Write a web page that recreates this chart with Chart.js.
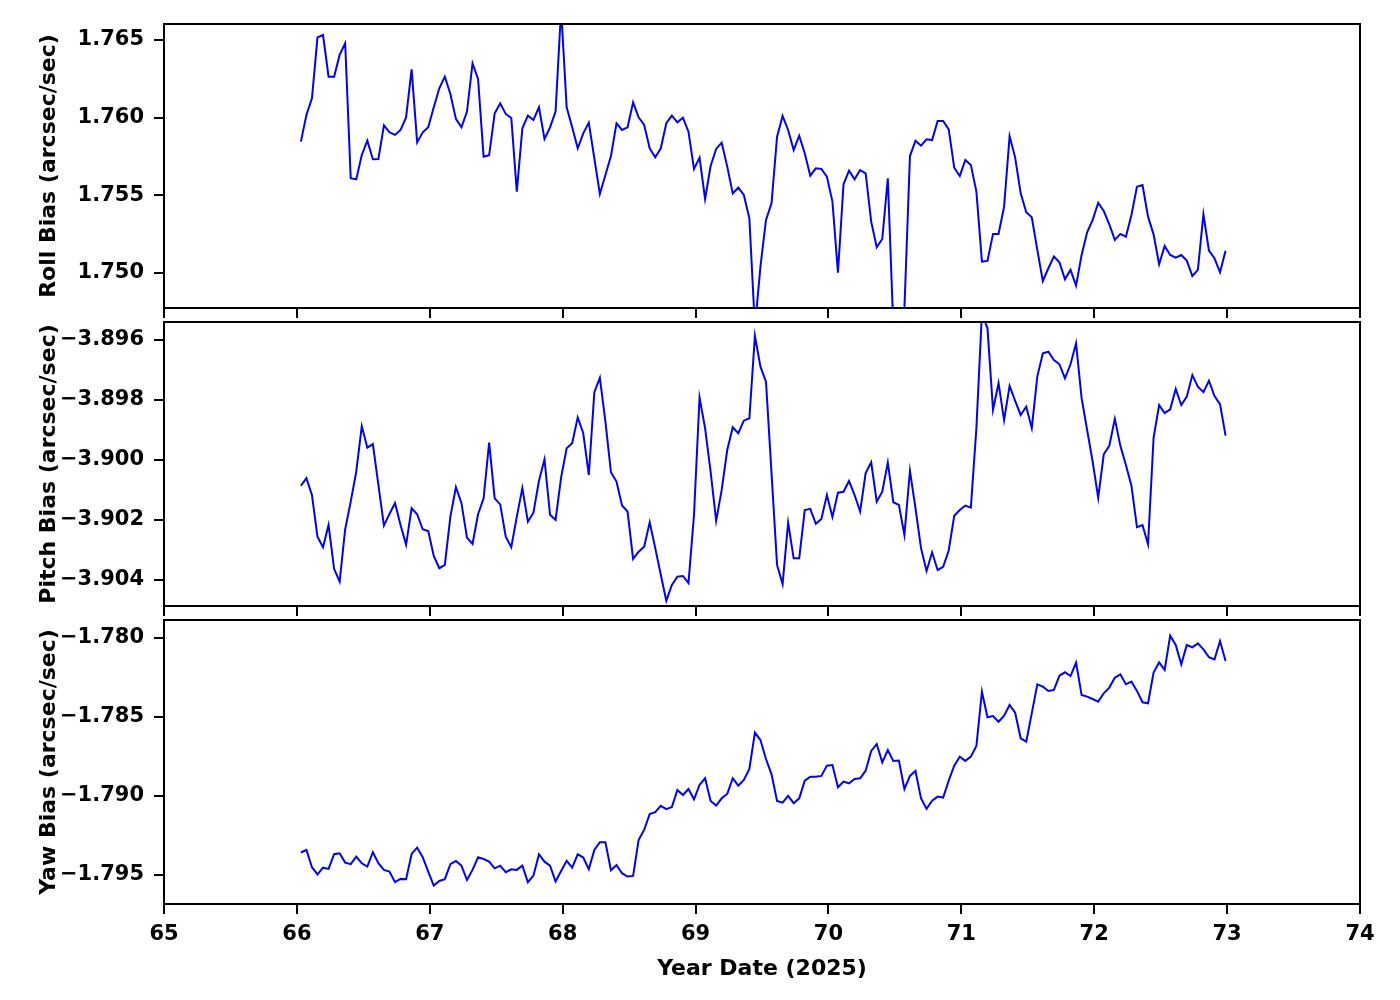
<!DOCTYPE html>
<html>
<head>
<meta charset="utf-8">
<script src="https://cdn.jsdelivr.net/npm/chart.js@4.4.1/dist/chart.umd.min.js"></script>
<style>
  body { margin: 0; background: #fff; }
  #wrap { position: relative; width: 1400px; height: 1000px; }
  canvas { position: absolute; left: 0; }
</style>
</head>
<body>
<div id="wrap">
  <canvas id="rollChart" width="1400" height="320" style="top:0px"></canvas>
  <canvas id="pitchChart" width="1400" height="308" style="top:310px"></canvas>
  <canvas id="yawChart" width="1400" height="388" style="top:612px"></canvas>
</div>
<script>
// hourly samples, day of year 2025
const START_DAY = 66.03;
const STEP_DAY = 1 / 24;

const X_TICKS = [65, 66, 67, 68, 69, 70, 71, 72, 73, 74];
const ROLL_TICKS = [1.750, 1.755, 1.760, 1.765];
const PITCH_TICKS = [-3.904, -3.902, -3.900, -3.898, -3.896];
const YAW_TICKS = [-1.795, -1.790, -1.785, -1.780];

const rollBias = [
  1.75846, 1.76017, 1.76125, 1.76517, 1.76532, 1.76264, 1.76264, 1.76404, 1.76479, 1.75610,
  1.75603, 1.75760, 1.75852, 1.75732, 1.75734, 1.75951, 1.75906, 1.75889, 1.75921, 1.76002,
  1.76311, 1.75841, 1.75906, 1.75938, 1.76067, 1.76189, 1.76264, 1.76153, 1.75992, 1.75938,
  1.76039, 1.76350, 1.76249, 1.75749, 1.75758, 1.76028, 1.76092, 1.76024, 1.75998, 1.75524,
  1.75932, 1.76013, 1.75985, 1.76067, 1.75863, 1.75938, 1.76039, 1.76700, 1.76067, 1.75938,
  1.75803, 1.75899, 1.75968, 1.75738, 1.75509, 1.75631, 1.75753, 1.75964, 1.75921, 1.75938,
  1.76099, 1.76002, 1.75953, 1.75803, 1.75745, 1.75803, 1.75964, 1.76013, 1.75970, 1.76000,
  1.75910, 1.75670, 1.75743, 1.75477, 1.75689, 1.75799, 1.75839, 1.75685, 1.75513, 1.75550,
  1.75503, 1.75352, 1.74650, 1.75041, 1.75342, 1.75449, 1.75878, 1.76011, 1.75921, 1.75792,
  1.75884, 1.75771, 1.75627, 1.75674, 1.75670, 1.75621, 1.75460, 1.75003, 1.75571, 1.75659,
  1.75603, 1.75663, 1.75642, 1.75331, 1.75166, 1.75219, 1.75610, 1.74650, 1.74650, 1.74770,
  1.75753, 1.75852, 1.75820, 1.75861, 1.75856, 1.75979, 1.75979, 1.75925, 1.75678, 1.75625,
  1.75728, 1.75696, 1.75524, 1.75074, 1.75078, 1.75252, 1.75252, 1.75427, 1.75882, 1.75743,
  1.75513, 1.75391, 1.75359, 1.75149, 1.74949, 1.75031, 1.75106, 1.75069, 1.74960, 1.75020,
  1.74919, 1.75116, 1.75262, 1.75342, 1.75453, 1.75400, 1.75314, 1.75213, 1.75252, 1.75234,
  1.75374, 1.75556, 1.75567, 1.75363, 1.75249, 1.75056, 1.75174, 1.75116, 1.75099, 1.75116,
  1.75080, 1.74981, 1.75020, 1.75378, 1.75144, 1.75095, 1.75005, 1.75144
];

const pitchBias = [
  -3.90086, -3.90061, -3.90117, -3.90256, -3.90291, -3.90217, -3.90363, -3.90406, -3.90231, -3.90139,
  -3.90039, -3.89887, -3.89959, -3.89947, -3.90083, -3.90219, -3.90180, -3.90144, -3.90217, -3.90283,
  -3.90161, -3.90181, -3.90231, -3.90237, -3.90320, -3.90361, -3.90350, -3.90189, -3.90091, -3.90144,
  -3.90259, -3.90280, -3.90181, -3.90128, -3.89942, -3.90128, -3.90148, -3.90256, -3.90291, -3.90189,
  -3.90094, -3.90206, -3.90176, -3.90069, -3.89998, -3.90183, -3.90200, -3.90058, -3.89961, -3.89944,
  -3.89858, -3.89911, -3.90050, -3.89774, -3.89726, -3.89872, -3.90041, -3.90072, -3.90152, -3.90172,
  -3.90330, -3.90306, -3.90289, -3.90208, -3.90294, -3.90383, -3.90470, -3.90417, -3.90389, -3.90387,
  -3.90411, -3.90183, -3.89792, -3.89894, -3.90039, -3.90203, -3.90100, -3.89967, -3.89891, -3.89911,
  -3.89869, -3.89861, -3.89586, -3.89689, -3.89739, -3.90044, -3.90350, -3.90414, -3.90209, -3.90328,
  -3.90328, -3.90167, -3.90163, -3.90213, -3.90197, -3.90117, -3.90190, -3.90109, -3.90106, -3.90070,
  -3.90117, -3.90172, -3.90044, -3.90008, -3.90139, -3.90106, -3.90009, -3.90141, -3.90150, -3.90250,
  -3.90036, -3.90161, -3.90294, -3.90370, -3.90308, -3.90367, -3.90356, -3.90302, -3.90186, -3.90167,
  -3.90152, -3.90159, -3.89894, -3.89510, -3.89561, -3.89833, -3.89744, -3.89867, -3.89753, -3.89803,
  -3.89850, -3.89822, -3.89894, -3.89722, -3.89644, -3.89639, -3.89667, -3.89681, -3.89728, -3.89681,
  -3.89611, -3.89794, -3.89900, -3.90006, -3.90126, -3.89981, -3.89953, -3.89863, -3.89953, -3.90017,
  -3.90086, -3.90224, -3.90217, -3.90281, -3.89926, -3.89817, -3.89844, -3.89831, -3.89763, -3.89817,
  -3.89789, -3.89717, -3.89756, -3.89774, -3.89736, -3.89787, -3.89814, -3.89919
];

const yawBias = [
  -1.79358, -1.79342, -1.79451, -1.79496, -1.79454, -1.79462, -1.79369, -1.79363, -1.79422, -1.79432,
  -1.79384, -1.79426, -1.79447, -1.79356, -1.79426, -1.79468, -1.79479, -1.79546, -1.79525, -1.79527,
  -1.79367, -1.79327, -1.79388, -1.79479, -1.79567, -1.79538, -1.79527, -1.79432, -1.79411, -1.79441,
  -1.79532, -1.79468, -1.79388, -1.79399, -1.79416, -1.79458, -1.79441, -1.79483, -1.79464, -1.79468,
  -1.79441, -1.79546, -1.79504, -1.79369, -1.79416, -1.79441, -1.79542, -1.79475, -1.79411, -1.79454,
  -1.79369, -1.79390, -1.79464, -1.79342, -1.79293, -1.79293, -1.79470, -1.79437, -1.79489, -1.79510,
  -1.79506, -1.79278, -1.79215, -1.79114, -1.79103, -1.79063, -1.79084, -1.79070, -1.78962, -1.78994,
  -1.78956, -1.79021, -1.78930, -1.78888, -1.79032, -1.79061, -1.79015, -1.78987, -1.78888, -1.78935,
  -1.78899, -1.78829, -1.78599, -1.78646, -1.78766, -1.78863, -1.79032, -1.79042, -1.79000, -1.79046,
  -1.79015, -1.78903, -1.78878, -1.78878, -1.78873, -1.78808, -1.78804, -1.78945, -1.78909, -1.78920,
  -1.78892, -1.78888, -1.78840, -1.78715, -1.78671, -1.78787, -1.78709, -1.78778, -1.78776, -1.78956,
  -1.78873, -1.78842, -1.79015, -1.79082, -1.79030, -1.79004, -1.79010, -1.78903, -1.78808, -1.78751,
  -1.78778, -1.78751, -1.78684, -1.78340, -1.78502, -1.78494, -1.78530, -1.78492, -1.78424, -1.78473,
  -1.78635, -1.78656, -1.78477, -1.78293, -1.78308, -1.78335, -1.78329, -1.78238, -1.78217, -1.78241,
  -1.78156, -1.78361, -1.78371, -1.78386, -1.78403, -1.78350, -1.78314, -1.78251, -1.78230, -1.78293,
  -1.78276, -1.78335, -1.78407, -1.78413, -1.78219, -1.78154, -1.78202, -1.77985, -1.78044, -1.78167,
  -1.78044, -1.78059, -1.78034, -1.78072, -1.78122, -1.78135, -1.78019, -1.78146
];

const FONT = 'DejaVu Sans';

// matplotlib style closed box around the plot area
const framePlugin = {
  id: 'frame',
  afterDraw(chart) {
    const ctx = chart.ctx;
    const a = chart.chartArea;
    ctx.save();
    ctx.strokeStyle = '#000';
    ctx.lineWidth = 2;
    ctx.strokeRect(a.left, a.top, a.right - a.left, a.bottom - a.top);
    ctx.restore();
  }
};

function fmt(v) {
  const s = Math.abs(v).toFixed(3);
  return v < 0 ? '\u2212' + s : s;
}

function makePanel(id, values, yMin, yMax, yTicks, yTitle, padTop, xHeight, isBottom) {
  const ctx = document.getElementById(id).getContext('2d');
  const points = values.map((v, i) => ({ x: START_DAY + i * STEP_DAY, y: v }));

  return new Chart(ctx, {
    type: 'line',
    data: {
      datasets: [{
        data: points,
        borderColor: '#0000ff',
        borderWidth: 2,
        pointRadius: 0,
        fill: false,
        tension: 0
      }]
    },
    options: {
      responsive: false,
      animation: false,
      layout: { padding: { top: padTop, right: 40, left: 0, bottom: 0 } },
      plugins: { legend: { display: false }, tooltip: { enabled: false } },
      scales: {
        x: {
          type: 'linear',
          min: 65,
          max: 74,
          afterBuildTicks: s => { s.ticks = X_TICKS.map(v => ({ value: v })); },
          afterFit: s => { s.height = xHeight; s.paddingLeft = 0; s.paddingRight = 0; },
          grid: { drawOnChartArea: false, tickLength: 10, color: '#000', lineWidth: 2 },
          border: { display: true, color: '#000', width: 2 },
          ticks: {
            display: isBottom,
            color: '#000',
            padding: 8,
            maxRotation: 0,
            font: { family: FONT, size: 21, weight: 'bold' },
            callback: v => String(v)
          },
          title: {
            display: isBottom,
            text: 'Year Date (2025)',
            color: '#000',
            padding: { top: 0, bottom: 18 },
            font: { family: FONT, size: 22, weight: 'bold' }
          }
        },
        y: {
          min: yMin,
          max: yMax,
          afterBuildTicks: s => { s.ticks = yTicks.map(v => ({ value: v })); },
          afterFit: s => { s.width = 164; s.paddingTop = 0; s.paddingBottom = 0; },
          grid: { drawOnChartArea: false, tickLength: 10, color: '#000', lineWidth: 2 },
          border: { display: true, color: '#000', width: 2 },
          ticks: {
            color: '#000',
            padding: 10,
            font: { family: FONT, size: 21, weight: 'bold' },
            callback: v => fmt(v)
          },
          title: {
            display: true,
            text: yTitle,
            color: '#000',
            padding: { top: 36, bottom: 0 },
            font: { family: FONT, size: 22, weight: 'bold' }
          }
        }
      }
    },
    plugins: [framePlugin]
  });
}

makePanel('rollChart', rollBias, 1.74775, 1.76603, ROLL_TICKS, 'Roll Bias (arcsec/sec)', 24, 12, false);
makePanel('pitchChart', pitchBias, -3.90487, -3.8954, PITCH_TICKS, 'Pitch Bias (arcsec/sec)', 12, 12, false);
makePanel('yawChart', yawBias, -1.79684, -1.77886, YAW_TICKS, 'Yaw Bias (arcsec/sec)', 8, 96, true);
</script>
</body>
</html>
